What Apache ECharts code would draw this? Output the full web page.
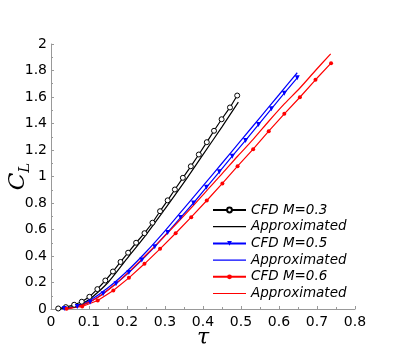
<!DOCTYPE html>
<html>
<head>
<meta charset="utf-8">
<script src="https://cdn.jsdelivr.net/npm/echarts@6/dist/echarts.min.js"></script>
<style>
  html, body { margin: 0; padding: 0; background: #fff; }
  #chart { width: 407px; height: 353px; }
</style>
</head>
<body>
<div id="chart"></div>
<script>
  // CFD M=0.3
  var tauCfd03 = [0.019, 0.039, 0.061, 0.081, 0.101, 0.122, 0.143, 0.163, 0.183, 0.203, 0.224, 0.246,
                  0.267, 0.287, 0.307, 0.326, 0.347, 0.368, 0.389, 0.410, 0.429, 0.449, 0.471, 0.490];
  var clCfd03 = [0.004, 0.014, 0.032, 0.055, 0.092, 0.150, 0.215, 0.283, 0.355, 0.425, 0.500, 0.572,
                 0.651, 0.738, 0.820, 0.902, 0.990, 1.077, 1.166, 1.259, 1.345, 1.432, 1.521, 1.611];
  var tauApp03 = [0.02, 0.05, 0.08, 0.10, 0.15, 0.20, 0.25, 0.30, 0.35, 0.40, 0.45, 0.493];
  var clApp03 = [0.0, 0.012, 0.040, 0.070, 0.200, 0.380, 0.560, 0.755, 0.955, 1.165, 1.375, 1.561];

  // CFD M=0.5
  var tauCfd05 = [0.035, 0.069, 0.103, 0.137, 0.171, 0.205, 0.239, 0.273, 0.307, 0.341, 0.375, 0.409,
                  0.443, 0.477, 0.512, 0.546, 0.580, 0.614, 0.648];
  var clCfd05 = [0.003, 0.018, 0.052, 0.115, 0.190, 0.275, 0.370, 0.470, 0.578, 0.690, 0.800, 0.918,
                 1.035, 1.153, 1.272, 1.392, 1.511, 1.629, 1.745];
  var tauApp05 = [0.03, 0.07, 0.10, 0.15, 0.20, 0.25, 0.30, 0.35, 0.40, 0.45, 0.50, 0.55, 0.60, 0.648];
  var clApp05 = [0.0, 0.022, 0.060, 0.160, 0.285, 0.430, 0.590, 0.760, 0.930, 1.100, 1.272, 1.445, 1.617, 1.783];

  // CFD M=0.6
  var tauCfd06 = [0.041, 0.082, 0.123, 0.164, 0.205, 0.246, 0.287, 0.328, 0.369, 0.410, 0.451, 0.491,
                  0.532, 0.573, 0.614, 0.655, 0.696, 0.737];
  var clCfd06 = [0.002, 0.019, 0.064, 0.140, 0.235, 0.341, 0.454, 0.572, 0.693, 0.819, 0.948, 1.078,
                 1.206, 1.342, 1.473, 1.598, 1.730, 1.855];
  var tauApp06 = [0.04, 0.082, 0.123, 0.164, 0.205, 0.246, 0.287, 0.328, 0.369, 0.410, 0.451, 0.491,
                  0.532, 0.573, 0.614, 0.655, 0.696, 0.736];
  var clApp06 = [0.0, 0.029, 0.086, 0.175, 0.280, 0.396, 0.514, 0.637, 0.763, 0.894, 1.023, 1.153,
                 1.280, 1.417, 1.548, 1.668, 1.800, 1.926];

  var seriesNames = ['CFD M=0.3', 'Approx M=0.3', 'CFD M=0.5', 'Approx M=0.5', 'CFD M=0.6', 'Approx M=0.6'];

  function pairs(xs, ys) {
    var out = [];
    for (var i = 0; i < xs.length; i++) out.push([xs[i], ys[i]]);
    return out;
  }

  // thin horizontal bar icon for the plain-line legend entries
  var lineIcon = 'path://M0,0 M33,6 M0,2.4 L33,2.4 L33,3.6 L0,3.6 Z';
  var legendData = seriesNames.map(function (n) {
    return n.indexOf('Approx') === 0 ? { name: n, icon: lineIcon } : { name: n };
  });

  var axisGray = '#999999';
  var chart = echarts.init(document.getElementById('chart'));
  chart.setOption({
    animation: false,
    grid: { left: 51, top: 44, width: 304, height: 265, outerBoundsMode: 'none', containLabel: false },
    legend: {
      orient: 'vertical',
      left: 212,
      top: 203,
      padding: 0,
      itemWidth: 33,
      itemHeight: 6,
      itemGap: 2.7,
      data: legendData,
      formatter: function (name) {
        return name.indexOf('Approx') === 0 ? 'Approximated' : name;
      },
      textStyle: { fontFamily: 'DejaVu Sans', fontStyle: 'italic', fontSize: 13.5, color: '#000' }
    },
    xAxis: {
      type: 'value',
      min: 0, max: 0.8, interval: 0.1,
      name: 'τ',
      nameLocation: 'middle',
      nameGap: 18,
      nameMoveOverlap: false,
      nameTextStyle: { fontFamily: 'DejaVu Serif', fontStyle: 'italic', fontSize: 22, color: '#000' },
      axisLine: { lineStyle: { color: axisGray, width: 1 } },
      axisTick: { inside: true, length: 3, lineStyle: { color: axisGray } },
      minorTick: { show: true, splitNumber: 2, length: 2, lineStyle: { color: axisGray } },
      axisLabel: { fontFamily: 'DejaVu Sans', fontSize: 14, color: '#000', margin: 6 },
      splitLine: { show: false }
    },
    yAxis: {
      type: 'value',
      min: 0, max: 2, interval: 0.2,
      name: '{c|C}{l|L}',
      nameLocation: 'middle',
      nameGap: 18,
      nameRotate: 90,
      nameMoveOverlap: false,
      nameTextStyle: {
        rich: {
          c: { fontFamily: 'DejaVu Serif', fontStyle: 'italic', fontSize: 23, lineHeight: 30, color: '#000' },
          l: { fontFamily: 'DejaVu Serif', fontStyle: 'italic', fontSize: 15, lineHeight: 15, verticalAlign: 'bottom', color: '#000' }
        }
      },
      axisLine: { show: true, lineStyle: { color: axisGray, width: 1 } },
      axisTick: { show: true, inside: true, length: 3, lineStyle: { color: axisGray } },
      minorTick: { show: true, splitNumber: 2, length: 2, lineStyle: { color: axisGray } },
      axisLabel: { fontFamily: 'DejaVu Sans', fontSize: 14, color: '#000', margin: 4 },
      splitLine: { show: false }
    },
    series: [
      {
        name: seriesNames[0], type: 'line', data: pairs(tauCfd03, clCfd03),
        symbol: 'circle', symbolSize: 5, showAllSymbol: true,
        lineStyle: { color: '#000', width: 1.2 },
        itemStyle: { color: '#fff', borderColor: '#000', borderWidth: 1 },
        z: 3
      },
      {
        name: seriesNames[1], type: 'line', data: pairs(tauApp03, clApp03),
        symbol: 'none', smooth: 0.3,
        lineStyle: { color: '#000', width: 1.2 },
        itemStyle: { color: '#000' }
      },
      {
        name: seriesNames[2], type: 'line', data: pairs(tauCfd05, clCfd05),
        symbol: 'triangle', symbolRotate: 180, symbolSize: 5, showAllSymbol: true,
        lineStyle: { color: '#0000ff', width: 1.2 },
        itemStyle: { color: '#0000ff' },
        z: 3
      },
      {
        name: seriesNames[3], type: 'line', data: pairs(tauApp05, clApp05),
        symbol: 'none', smooth: 0.3,
        lineStyle: { color: '#0000ff', width: 1.2 },
        itemStyle: { color: '#0000ff' }
      },
      {
        name: seriesNames[4], type: 'line', data: pairs(tauCfd06, clCfd06),
        symbol: 'circle', symbolSize: 4, showAllSymbol: true,
        lineStyle: { color: '#ff0000', width: 1.2 },
        itemStyle: { color: '#ff0000' },
        z: 3
      },
      {
        name: seriesNames[5], type: 'line', data: pairs(tauApp06, clApp06),
        symbol: 'none', smooth: 0.3,
        lineStyle: { color: '#ff0000', width: 1.2 },
        itemStyle: { color: '#ff0000' }
      }
    ]
  });
</script>
</body>
</html>
